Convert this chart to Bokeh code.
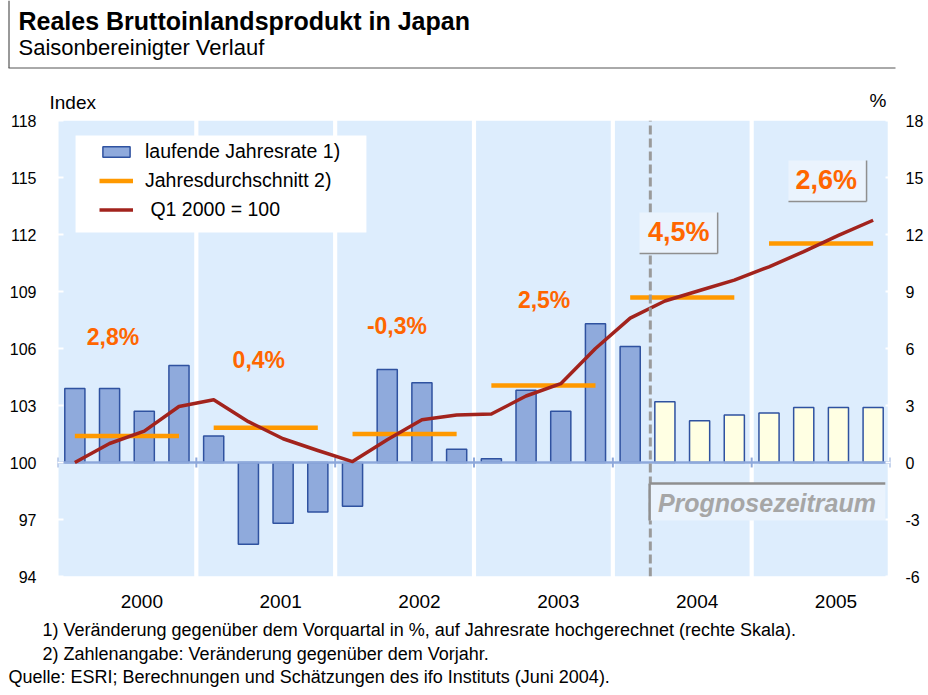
from bokeh.plotting import figure
from bokeh.models import Range1d, LinearAxis, FixedTicker, Legend, LegendItem, ColumnDataSource
from bokeh.layouts import column
from bokeh.core.properties import value
from bokeh.embed import file_html
from bokeh.resources import INLINE

FONT = "Liberation Sans"

# ---------------- data ----------------
years = ["2000", "2001", "2002", "2003", "2004", "2005"]
quarters = [f"{y}Q{q}" for y in years for q in range(1, 5)]
# laufende Jahresrate (% , rechte Skala)
growth_pct = [3.9, 3.9, 2.7, 5.1,
              1.4, -4.3, -3.2, -2.6,
              -2.3, 4.9, 4.2, 0.7,
              0.2, 3.8, 2.7, 7.3,
              6.1, 3.2, 2.2, 2.5,
              2.6, 2.9, 2.9, 2.9]
# Index Q1 2000 = 100 (linke Skala)
gdp_index = [100.0, 101.0, 101.65, 102.95,
             103.3, 102.15, 101.25, 100.63,
             100.05, 101.2, 102.25, 102.5,
             102.55, 103.5, 104.15, 106.0,
             107.6, 108.5, 109.05, 109.6,
             110.3, 111.1, 111.95, 112.75]
# Jahresdurchschnitt des Index
annual_avg_index = [101.4, 101.83, 101.5, 104.05, 108.68, 111.53]
annual_growth = ["2,8%", "0,4%", "-0,3%", "2,5%", "4,5%", "2,6%"]
first_forecast = "2004Q2"
index_ticks = [94, 97, 100, 103, 106, 109, 112, 115, 118]
pct_ticks = [-6, -3, 0, 3, 6, 9, 12, 15, 18]

title = "Reales Bruttoinlandsprodukt in Japan"
subtitle = "Saisonbereinigter Verlauf"
footnote1 = "1) Veränderung gegenüber dem Vorquartal in %, auf Jahresrate hochgerechnet (rechte Skala)."
footnote2 = "2) Zahlenangabe: Veränderung gegenüber dem Vorjahr."
source_note = "Quelle: ESRI; Berechnungen und Schätzungen des ifo Instituts (Juni 2004)."

# ---------------- styles ----------------
BAND = "#DDEDFD"
BAR = "#8FAADC"
BAR_EDGE = "#2F52A0"
FORE = "#FFFFE3"
ORANGE = "#FF9900"
RED = "#A2231D"
LABEL = "#FF6600"
AXIS = "#8EA9DB"
BOXFILL = "#EAF3FD"
GRAY = "#8F8F8F"

W = 928


def blank(height):
    fig = figure(width=W, height=height, x_range=Range1d(0, W), y_range=Range1d(height, 0),
                 output_backend="svg", toolbar_location=None, tools="",
                 x_axis_location=None, y_axis_location=None, min_border=0, frame_align=False,
                 outline_line_color=None, background_fill_color="white", border_fill_color="white")
    fig.grid.visible = False
    return fig


def txt(fig, x, y, s, size, style="normal", align="left", color="black"):
    fig.text(x=x, y=y, text=s, text_font=value(FONT), text_font_size=size, text_font_style=style,
             text_color=color, text_align=align, text_baseline="middle")


# ---------------- header ----------------
h = blank(112)
h.segment(x0=[8.5], y0=[0], x1=[8.5], y1=[67.5], line_color="#555555", line_width=1.2)
h.segment(x0=[8], y0=[67.5], x1=[895], y1=[67.5], line_color="#555555", line_width=1)
txt(h, [18], [20.5], [title], "25px", "bold")
txt(h, [18], [47], [subtitle], "22px")
txt(h, [49], [101.5], ["Index"], "19px")
txt(h, [869], [100], ["%"], "19px")

# ---------------- main chart ----------------
p = figure(width=W, height=503, x_range=Range1d(0, 24), y_range=Range1d(94, 118),
           output_backend="svg", toolbar_location=None, tools="",
           x_axis_location=None, y_axis_location=None, frame_align=False,
           min_border_left=57, min_border_right=38, min_border_top=8, min_border_bottom=39,
           outline_line_color=None, background_fill_color="white", border_fill_color="white")
p.grid.visible = False
p.extra_y_ranges = {"pct": Range1d(-6, 18)}

nyear = len(years)
band_left = [4 * i + (0.03 if i == 0 else 0.06) for i in range(nyear)]
band_right = [4 * i + 4 - (0.08 if i == nyear - 1 else 0.06) for i in range(nyear)]
p.quad(left=band_left, right=band_right, bottom=94, top=118, fill_color=BAND, line_color=None)

# legend background
p.quad(left=[0.52], right=[8.90], bottom=[112.11], top=[117.21], fill_color="white", line_color=None)

xq = [i + 0.5 for i in range(len(quarters))]
k = quarters.index(first_forecast)
src_a = ColumnDataSource(dict(x=xq[:k], top=growth_pct[:k]))
src_f = ColumnDataSource(dict(x=xq[k:], top=growth_pct[k:]))
bars_a = p.vbar(x="x", top="top", bottom=0, width=0.58, source=src_a, y_range_name="pct",
                fill_color=BAR, line_color=BAR_EDGE, line_width=1.5)
bars_f = p.vbar(x="x", top="top", bottom=0, width=0.58, source=src_f, y_range_name="pct",
                fill_color=FORE, line_color=BAR_EDGE, line_width=1.5)

# zero line with year ticks
p.segment(x0=[0], y0=[0], x1=[24], y1=[0], y_range_name="pct", line_color=AXIS, line_width=2.5)
ytick_x = [4 * i for i in range(nyear + 1)]
p.segment(x0=ytick_x, y0=-0.26, x1=ytick_x, y1=0.26, y_range_name="pct", line_color=AXIS, line_width=2)

# annual averages
avg_x0 = [4 * i + 0.5 for i in range(nyear)]
avg_x1 = [4 * i + 3.5 for i in range(nyear)]
avg_r = p.segment(x0=avg_x0, y0=annual_avg_index, x1=avg_x1, y1=annual_avg_index,
                  line_color=ORANGE, line_width=4.5, line_cap="butt")

# index line
idx_r = p.line(xq, gdp_index, line_color=RED, line_width=3.5, line_join="round")

# forecast divider
p.segment(x0=[17.08], y0=[94], x1=[17.08], y1=[118], line_color="#9A9A9A", line_width=3, line_dash="9 4")

# plain annual growth labels
txt(p, [1.60, 5.80, 9.78, 14.02], [106.58, 105.41, 107.18, 108.54], annual_growth[:4], "23px",
    "bold", "center", LABEL)

# boxed annual growth labels (forecast years)
bl = [16.77, 21.06]
br = [19.02, 23.31]
bb = [111.0, 113.74]
bt = [113.16, 115.89]
p.quad(left=bl, right=br, bottom=bb, top=bt, fill_color=BOXFILL, line_color=None)
p.segment(x0=bl, y0=bb, x1=br, y1=bb, line_color=GRAY, line_width=1.5)
p.segment(x0=br, y0=bb, x1=br, y1=bt, line_color=GRAY, line_width=1.5)
txt(p, [17.90, 22.15], [112.12, 114.88], annual_growth[4:], "27px", "bold", "center", LABEL)

# forecast period box
p.quad(left=[17.06], right=[23.85], bottom=[96.95], top=[98.89], fill_color=BOXFILL, line_color=None)
p.segment(x0=[17.06], y0=[98.89], x1=[23.85], y1=[98.89], line_color=GRAY, line_width=2.5)
p.segment(x0=[17.06], y0=[96.95], x1=[17.06], y1=[98.89], line_color=GRAY, line_width=2.5)
txt(p, [20.44], [97.87], ["Prognosezeitraum"], "25px", "bold italic", "center", "#A6A6A6")

# axes
yl = LinearAxis(ticker=FixedTicker(ticks=index_ticks), axis_line_color=None,
                major_tick_in=6, major_tick_out=0, major_tick_line_color="white", major_tick_line_width=2,
                minor_tick_line_color=None, major_label_standoff=21,
                major_label_text_font=FONT, major_label_text_font_size="16px", major_label_text_color="black")
p.add_layout(yl, "left")
yr = LinearAxis(y_range_name="pct", ticker=FixedTicker(ticks=pct_ticks), axis_line_color=None,
                major_label_overrides={t: str(t) for t in pct_ticks},
                major_tick_in=5, major_tick_out=0, major_tick_line_color="white", major_tick_line_width=2,
                minor_tick_line_color=None, major_label_standoff=15,
                major_label_text_font=FONT, major_label_text_font_size="16px", major_label_text_color="black")
p.add_layout(yr, "right")
# year labels sit slightly right of the year centre, as in the original
year_ticks = [4 * i + 2.43 for i in range(nyear)]
xb = LinearAxis(ticker=FixedTicker(ticks=year_ticks),
                major_label_overrides={t: y for t, y in zip(year_ticks, years)},
                axis_line_color=None, major_tick_line_color=None, minor_tick_line_color=None,
                major_label_standoff=12, major_label_text_font=FONT, major_label_text_font_size="19px",
                major_label_text_color="black")
p.add_layout(xb, "below")

legend = Legend(items=[LegendItem(label="laufende Jahresrate 1)", renderers=[bars_a]),
                       LegendItem(label="Jahresdurchschnitt 2)", renderers=[avg_r]),
                       LegendItem(label=" Q1 2000 = 100", renderers=[idx_r])],
                location=(42, 355), orientation="vertical",
                background_fill_alpha=0, border_line_color=None,
                label_text_font=FONT, label_text_font_size="19.5px", label_text_color="black",
                glyph_width=34, glyph_height=13, label_standoff=12, label_height=22,
                spacing=6, padding=8, margin=0)
p.add_layout(legend)

# ---------------- footer ----------------
f = blank(80)
txt(f, [42, 42, 8], [14, 38, 61.5], [footnote1, footnote2, source_note], "18px")

layout = column(h, p, f, spacing=0)
open("out.html", "w").write(file_html(layout, INLINE))
